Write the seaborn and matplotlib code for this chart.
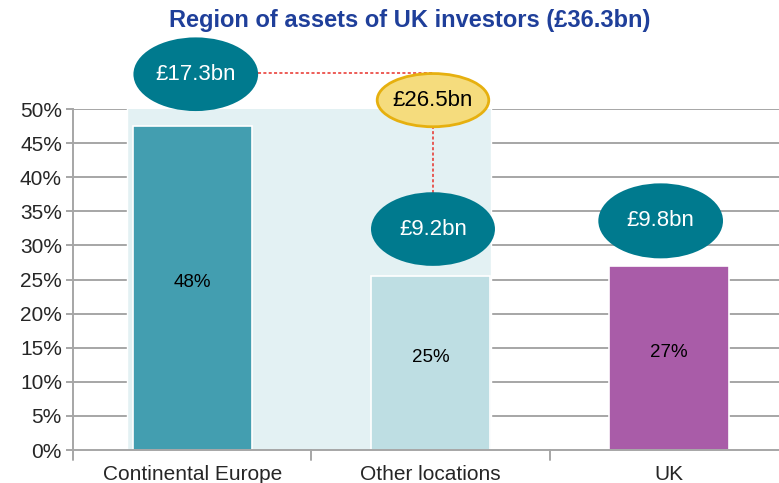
import matplotlib
matplotlib.use("Agg")
import matplotlib.pyplot as plt
from matplotlib.patches import Ellipse
import pandas as pd
import seaborn as sns

# data
regions = ["Continental Europe", "Other locations", "UK"]
shares = [47.5, 25.5, 27.0]
share_labels = ["48%", "25%", "27%"]
amounts = ["£17.3bn", "£9.2bn", "£9.8bn"]
non_uk_total = "£26.5bn"
non_uk_share = 73.0
title = "Region of assets of UK investors (£36.3bn)"

bar_colors = ["#439EB0", "#BEDEE3", "#A95CA8"]
teal = "#007A8E"
grid_grey = "#A6A6A6"

sns.set_style("white")
plt.rcParams["font.family"] = ["Liberation Sans", "DejaVu Sans"]

df = pd.DataFrame({"region": regions, "share": shares})

fig = plt.figure(figsize=(7.79, 4.83), dpi=100)
ax = fig.add_axes([0.0937, 0.0683, 0.912, 0.706])

# light background block behind the non-UK regions
ax.bar(0.49, non_uk_share, width=1.53, color="#E3F1F3", zorder=0.5)

for y in range(5, 55, 5):
    ax.axhline(y, color=grid_grey, lw=1.4, zorder=0.4)

sns.barplot(data=df, x="region", y="share", hue="region", palette=bar_colors,
            width=0.5, legend=False, ax=ax, zorder=2, saturation=1,
            edgecolor="white", linewidth=1.2)

for i, (s, lab) in enumerate(zip(shares, share_labels)):
    ax.text(i, s / 2 + 0.8, lab, ha="center", va="center", fontsize=13.5, color="black", zorder=3)

ax.set_ylim(0, 50)
ax.set_xlim(-0.5, 2.48)
ax.set_yticks(range(0, 55, 5))
ax.set_yticklabels([f"{v}%" for v in range(0, 55, 5)], fontsize=15)
ax.set_xticks([0, 1, 2])
ax.set_xticklabels(regions, fontsize=15)
ax.tick_params(axis="x", length=0, pad=11)
ax.tick_params(axis="y", length=5, width=1.4, color=grid_grey, pad=3, left=True)
ax.set_xlabel("")
ax.set_ylabel("")
for sp in ["top", "right"]:
    ax.spines[sp].set_visible(False)
for sp in ["bottom", "left"]:
    ax.spines[sp].set_color(grid_grey)
    ax.spines[sp].set_linewidth(1.4)

# tick marks between categories
for xb in [-0.5, 0.5, 1.5]:
    ax.plot([xb, xb], [0, -1.4], color=grid_grey, lw=1.4, clip_on=False)

# red dashed connectors
ax.plot([0.276, 1.01], [55.3, 55.3], color="#E8302A", lw=1.1, ls=(0, (2, 1.5)), clip_on=False, zorder=3)
ax.plot([1.01, 1.01], [37.7, 47.5], color="#E8302A", lw=1.1, ls=(0, (2, 1.5)), clip_on=False, zorder=3)

# bubbles with amounts
bubbles = [(0.015, 55.1, 0.523, 10.8), (1.01, 32.4, 0.52, 10.8), (1.965, 33.6, 0.523, 11.0)]
for (cx, cy, w, h), amt in zip(bubbles, amounts):
    ax.add_patch(Ellipse((cx, cy), w, h, facecolor=teal, edgecolor="none", clip_on=False, zorder=4))
    ax.text(cx, cy, amt, ha="center", va="center", fontsize=16, color="white", zorder=5)

ax.add_patch(Ellipse((1.01, 51.3), 0.468, 7.8, facecolor="#F5DC7D", edgecolor="#E6B00F",
                     lw=2, clip_on=False, zorder=4))
ax.text(1.01, 51.3, non_uk_total, ha="center", va="center", fontsize=16, color="black", zorder=5)

fig.text(0.526, 0.957, title, ha="center", va="center", fontsize=17,
         fontweight="bold", color="#1F3F9A")

fig.savefig("out.png", dpi=100)
